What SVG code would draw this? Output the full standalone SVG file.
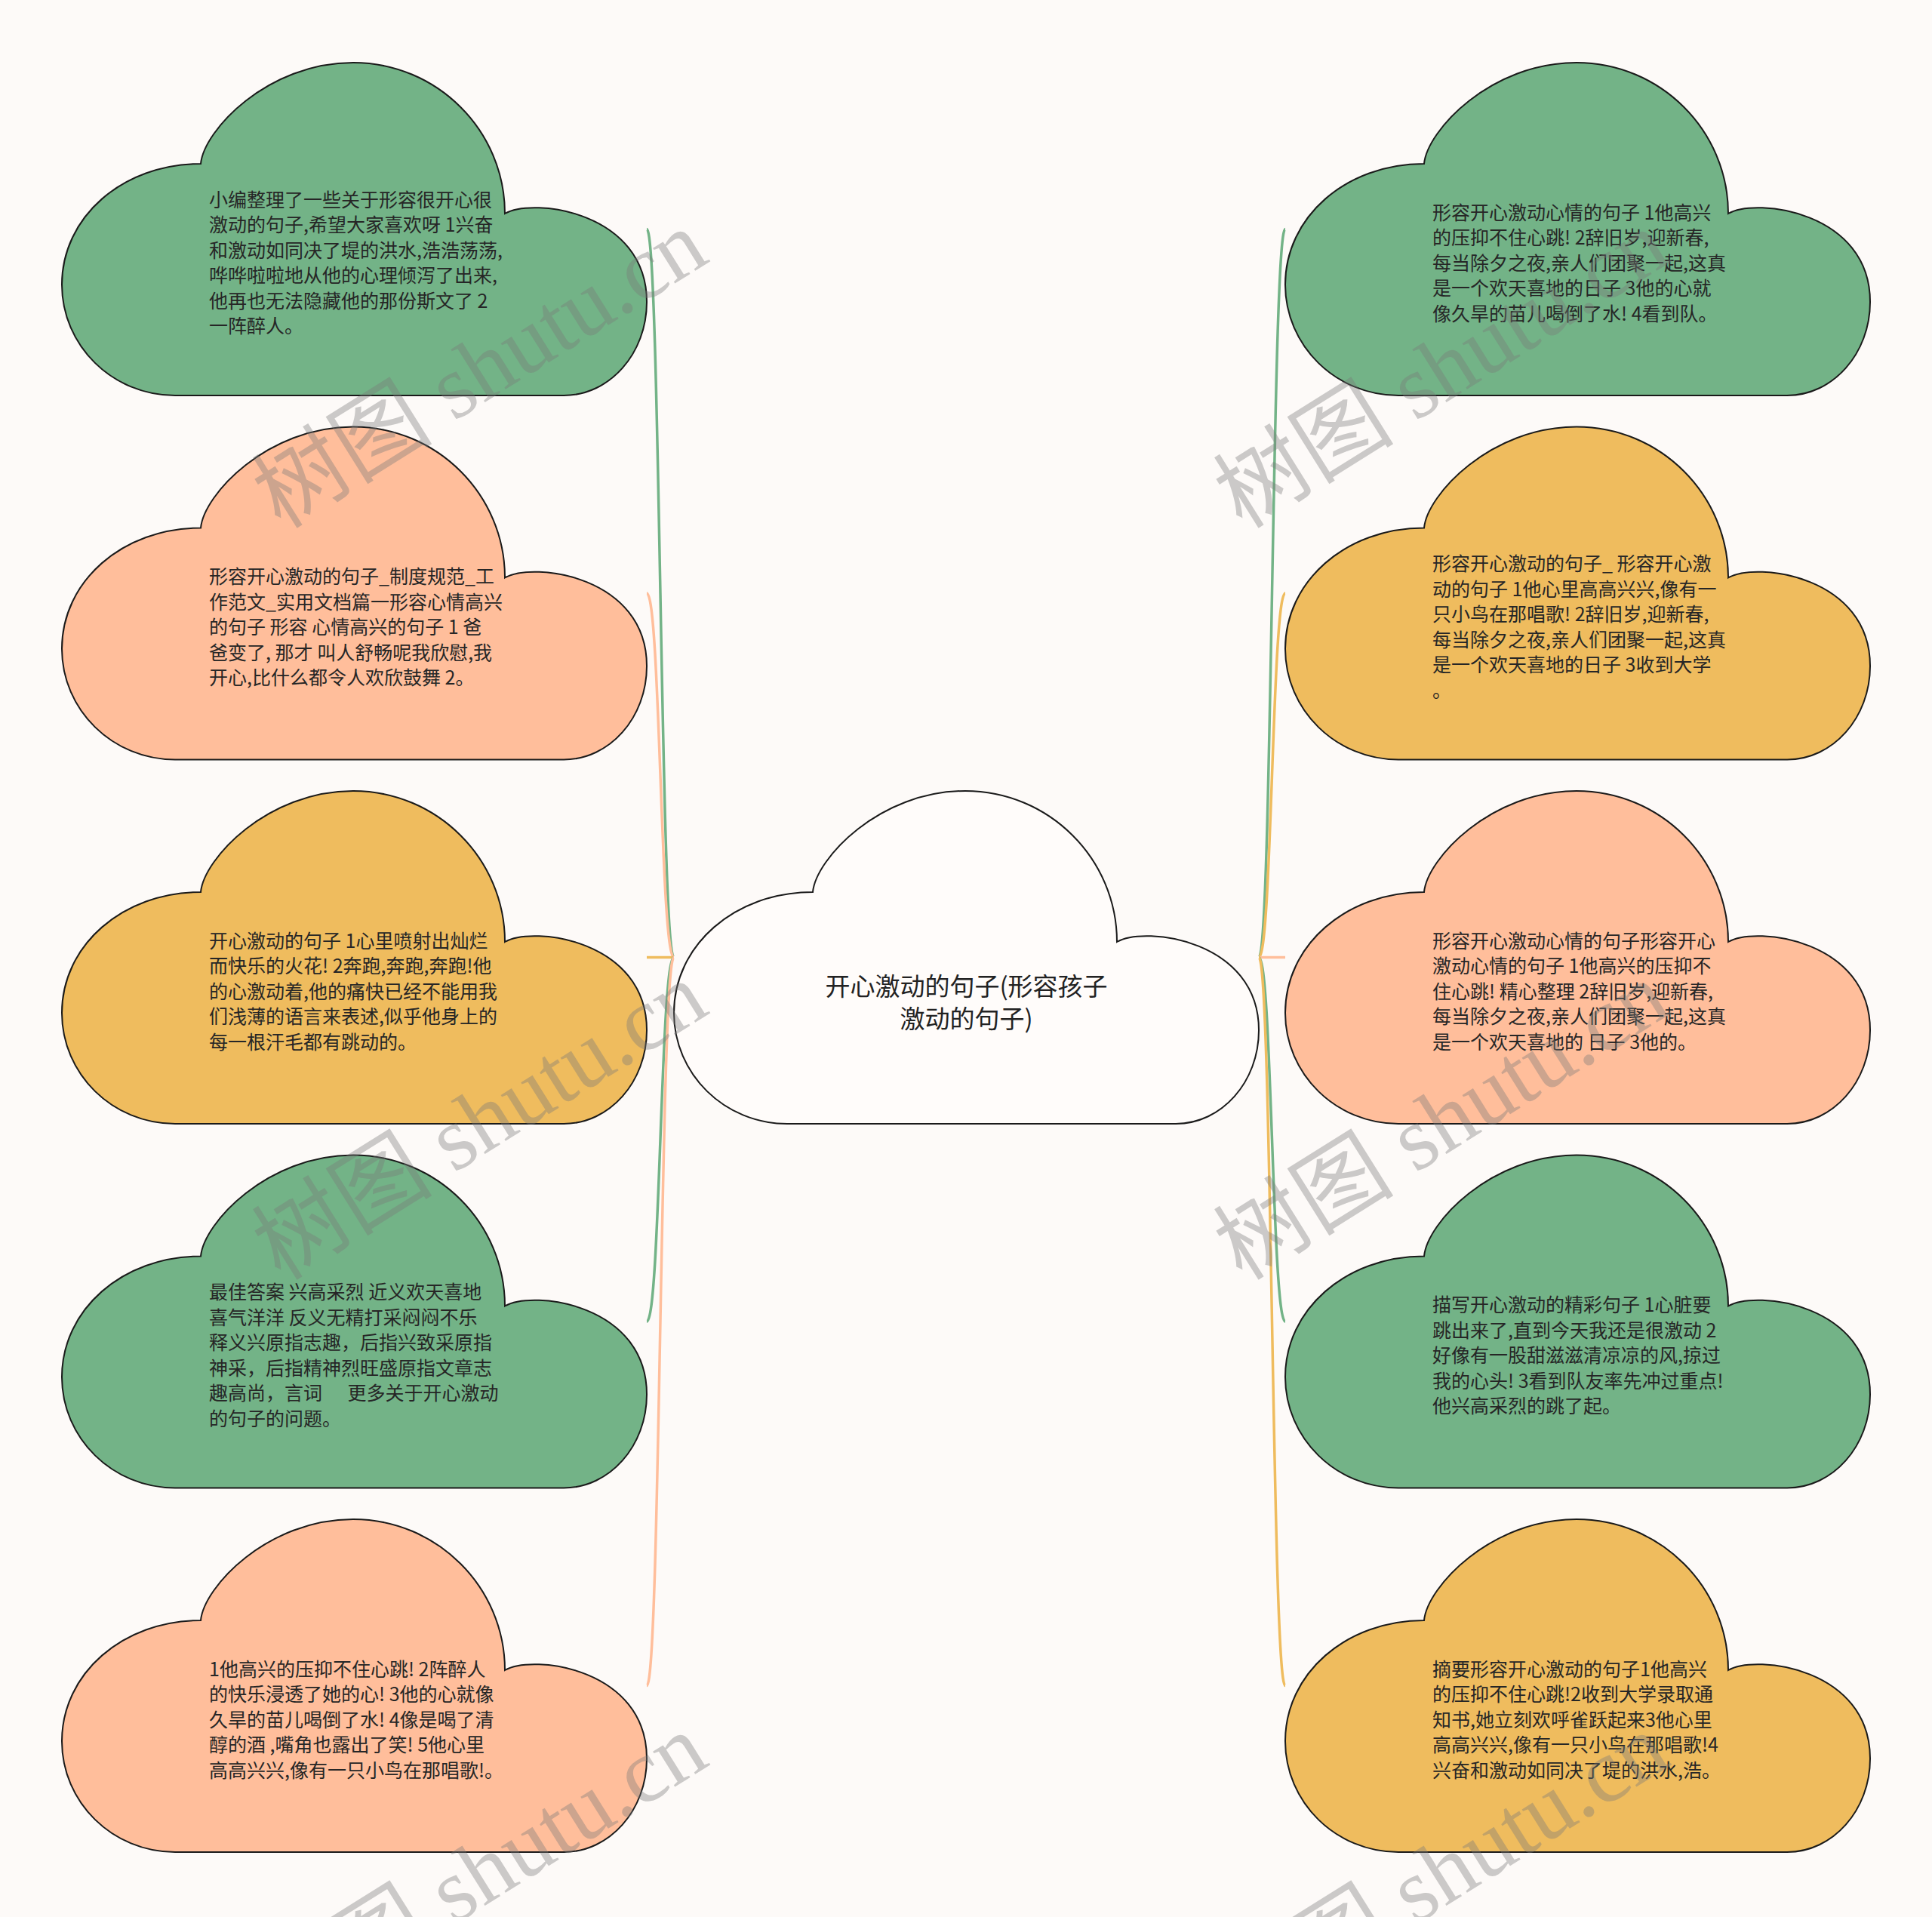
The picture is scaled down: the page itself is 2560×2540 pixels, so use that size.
<svg xmlns="http://www.w3.org/2000/svg" xmlns:xlink="http://www.w3.org/1999/xlink" width="2560" height="2540" viewBox="0 0 2560 2540">
<style>
.cl{stroke:#1a1a1a;stroke-width:2}
.green{fill:#73B387}
.peach{fill:#FFBE9B}
.yellow{fill:#EFBC5E}
.white{fill:#FFFCFA}
.t{font-family:"Noto Sans CJK SC","Microsoft YaHei",sans-serif;font-size:25px;fill:#262626}
.ct{font-family:"Noto Sans CJK SC","Microsoft YaHei",sans-serif;font-size:33px;fill:#222;text-anchor:middle}
.lk{fill:none;stroke-width:3.5}
.wm{font-family:"Liberation Serif","Noto Sans CJK SC",serif;font-size:120px;fill:#7a7a7a;fill-opacity:0.38}
</style>
<defs>
<path id="cloud" d="M 184 134 C 188 90 272 0 386 0 C 497 0 587 90 587 200 C 625 178 775 198 775 317 C 775 385.5 725.8 441 665 441 L 150 441 C 67 441 0 375 0 294 C 0 205 80 134 184 134 Z"/>
</defs>
<rect x="0" y="0" width="2560" height="2540" fill="#FDFAF8"/>
<g id="connectors">
<path class="lk" stroke="#73B387" d="M 893 1268.5 C 875 1268.5 875 303.5 857 303.5"/>
<path class="lk" stroke="#FFBE9B" d="M 893 1268.5 C 875 1268.5 875 786 857 786"/>
<path class="lk" stroke="#EFBC5E" d="M 893 1268.5 L 857 1268.5"/>
<path class="lk" stroke="#73B387" d="M 893 1268.5 C 875 1268.5 875 1751 857 1751"/>
<path class="lk" stroke="#FFBE9B" d="M 893 1268.5 C 875 1268.5 875 2233.5 857 2233.5"/>
<path class="lk" stroke="#73B387" d="M 1668 1268.5 C 1685.5 1268.5 1685.5 303.5 1703 303.5"/>
<path class="lk" stroke="#EFBC5E" d="M 1668 1268.5 C 1685.5 1268.5 1685.5 786 1703 786"/>
<path class="lk" stroke="#FFBE9B" d="M 1668 1268.5 L 1703 1268.5"/>
<path class="lk" stroke="#73B387" d="M 1668 1268.5 C 1685.5 1268.5 1685.5 1751 1703 1751"/>
<path class="lk" stroke="#EFBC5E" d="M 1668 1268.5 C 1685.5 1268.5 1685.5 2233.5 1703 2233.5"/>
</g>
<g id="node-center" transform="translate(893,1048)">
<use xlink:href="#cloud" href="#cloud" class="cl white"/>
<text class="ct"><tspan x="387.5" y="271">开心激动的句子(形容孩子</tspan><tspan x="387.5" y="314">激动的句子)</tspan></text>
</g>
<g id="node-l1" transform="translate(82,83)">
<use xlink:href="#cloud" href="#cloud" class="cl green"/>
<text class="t" xml:space="preserve"><tspan x="195" y="190.75">小编整理了一些关于形容很开心很</tspan><tspan x="195" dy="33.5">激动的句子,希望大家喜欢呀 1兴奋</tspan><tspan x="195" dy="33.5">和激动如同决了堤的洪水,浩浩荡荡,</tspan><tspan x="195" dy="33.5">哗哗啦啦地从他的心理倾泻了出来,</tspan><tspan x="195" dy="33.5">他再也无法隐藏他的那份斯文了 2</tspan><tspan x="195" dy="33.5">一阵醉人。</tspan></text>
</g>
<g id="node-l2" transform="translate(82,565.5)">
<use xlink:href="#cloud" href="#cloud" class="cl peach"/>
<text class="t" xml:space="preserve"><tspan x="195" y="207.5">形容开心激动的句子_制度规范_工</tspan><tspan x="195" dy="33.5">作范文_实用文档篇一形容心情高兴</tspan><tspan x="195" dy="33.5">的句子 形容 心情高兴的句子 1 爸</tspan><tspan x="195" dy="33.5">爸变了, 那才 叫人舒畅呢我欣慰,我</tspan><tspan x="195" dy="33.5">开心,比什么都令人欢欣鼓舞 2。</tspan></text>
</g>
<g id="node-l3" transform="translate(82,1048)">
<use xlink:href="#cloud" href="#cloud" class="cl yellow"/>
<text class="t" xml:space="preserve"><tspan x="195" y="207.5">开心激动的句子 1心里喷射出灿烂</tspan><tspan x="195" dy="33.5">而快乐的火花! 2奔跑,奔跑,奔跑!他</tspan><tspan x="195" dy="33.5">的心激动着,他的痛快已经不能用我</tspan><tspan x="195" dy="33.5">们浅薄的语言来表述,似乎他身上的</tspan><tspan x="195" dy="33.5">每一根汗毛都有跳动的。</tspan></text>
</g>
<g id="node-l4" transform="translate(82,1530.5)">
<use xlink:href="#cloud" href="#cloud" class="cl green"/>
<text class="t" xml:space="preserve"><tspan x="195" y="190.75">最佳答案 兴高采烈 近义欢天喜地</tspan><tspan x="195" dy="33.5">喜气洋洋 反义无精打采闷闷不乐</tspan><tspan x="195" dy="33.5">释义兴原指志趣，后指兴致采原指</tspan><tspan x="195" dy="33.5">神采，后指精神烈旺盛原指文章志</tspan><tspan x="195" dy="33.5">趣高尚，言词      更多关于开心激动</tspan><tspan x="195" dy="33.5">的句子的问题。</tspan></text>
</g>
<g id="node-l5" transform="translate(82,2013)">
<use xlink:href="#cloud" href="#cloud" class="cl peach"/>
<text class="t" xml:space="preserve"><tspan x="195" y="207.5">1他高兴的压抑不住心跳! 2阵醉人</tspan><tspan x="195" dy="33.5">的快乐浸透了她的心! 3他的心就像</tspan><tspan x="195" dy="33.5">久旱的苗儿喝倒了水! 4像是喝了清</tspan><tspan x="195" dy="33.5">醇的酒 ,嘴角也露出了笑! 5他心里</tspan><tspan x="195" dy="33.5">高高兴兴,像有一只小鸟在那唱歌!。</tspan></text>
</g>
<g id="node-r1" transform="translate(1703,83)">
<use xlink:href="#cloud" href="#cloud" class="cl green"/>
<text class="t" xml:space="preserve"><tspan x="195" y="207.5">形容开心激动心情的句子 1他高兴</tspan><tspan x="195" dy="33.5">的压抑不住心跳! 2辞旧岁,迎新春,</tspan><tspan x="195" dy="33.5">每当除夕之夜,亲人们团聚一起,这真</tspan><tspan x="195" dy="33.5">是一个欢天喜地的日子 3他的心就</tspan><tspan x="195" dy="33.5">像久旱的苗儿喝倒了水! 4看到队。</tspan></text>
</g>
<g id="node-r2" transform="translate(1703,565.5)">
<use xlink:href="#cloud" href="#cloud" class="cl yellow"/>
<text class="t" xml:space="preserve"><tspan x="195" y="190.75">形容开心激动的句子_ 形容开心激</tspan><tspan x="195" dy="33.5">动的句子 1他心里高高兴兴,像有一</tspan><tspan x="195" dy="33.5">只小鸟在那唱歌! 2辞旧岁,迎新春,</tspan><tspan x="195" dy="33.5">每当除夕之夜,亲人们团聚一起,这真</tspan><tspan x="195" dy="33.5">是一个欢天喜地的日子 3收到大学</tspan><tspan x="195" dy="33.5">。</tspan></text>
</g>
<g id="node-r3" transform="translate(1703,1048)">
<use xlink:href="#cloud" href="#cloud" class="cl peach"/>
<text class="t" xml:space="preserve"><tspan x="195" y="207.5">形容开心激动心情的句子形容开心</tspan><tspan x="195" dy="33.5">激动心情的句子 1他高兴的压抑不</tspan><tspan x="195" dy="33.5">住心跳! 精心整理 2辞旧岁,迎新春,</tspan><tspan x="195" dy="33.5">每当除夕之夜,亲人们团聚一起,这真</tspan><tspan x="195" dy="33.5">是一个欢天喜地的 日子 3他的。</tspan></text>
</g>
<g id="node-r4" transform="translate(1703,1530.5)">
<use xlink:href="#cloud" href="#cloud" class="cl green"/>
<text class="t" xml:space="preserve"><tspan x="195" y="207.5">描写开心激动的精彩句子 1心脏要</tspan><tspan x="195" dy="33.5">跳出来了,直到今天我还是很激动 2</tspan><tspan x="195" dy="33.5">好像有一股甜滋滋清凉凉的风,掠过</tspan><tspan x="195" dy="33.5">我的心头! 3看到队友率先冲过重点!</tspan><tspan x="195" dy="33.5">他兴高采烈的跳了起。</tspan></text>
</g>
<g id="node-r5" transform="translate(1703,2013)">
<use xlink:href="#cloud" href="#cloud" class="cl yellow"/>
<text class="t" xml:space="preserve"><tspan x="195" y="207.5">摘要形容开心激动的句子1他高兴</tspan><tspan x="195" dy="33.5">的压抑不住心跳!2收到大学录取通</tspan><tspan x="195" dy="33.5">知书,她立刻欢呼雀跃起来3他心里</tspan><tspan x="195" dy="33.5">高高兴兴,像有一只小鸟在那唱歌!4</tspan><tspan x="195" dy="33.5">兴奋和激动如同决了堤的洪水,浩。</tspan></text>
</g>
<g id="watermark">
<text class="wm" transform="translate(372,702) rotate(-32)">树图 shutu.cn</text>
<text class="wm" transform="translate(372,1698) rotate(-32)">树图 shutu.cn</text>
<text class="wm" transform="translate(372,2694) rotate(-32)">树图 shutu.cn</text>
<text class="wm" transform="translate(1646,702) rotate(-32)">树图 shutu.cn</text>
<text class="wm" transform="translate(1646,1698) rotate(-32)">树图 shutu.cn</text>
<text class="wm" transform="translate(1646,2694) rotate(-32)">树图 shutu.cn</text>
</g>
</svg>
